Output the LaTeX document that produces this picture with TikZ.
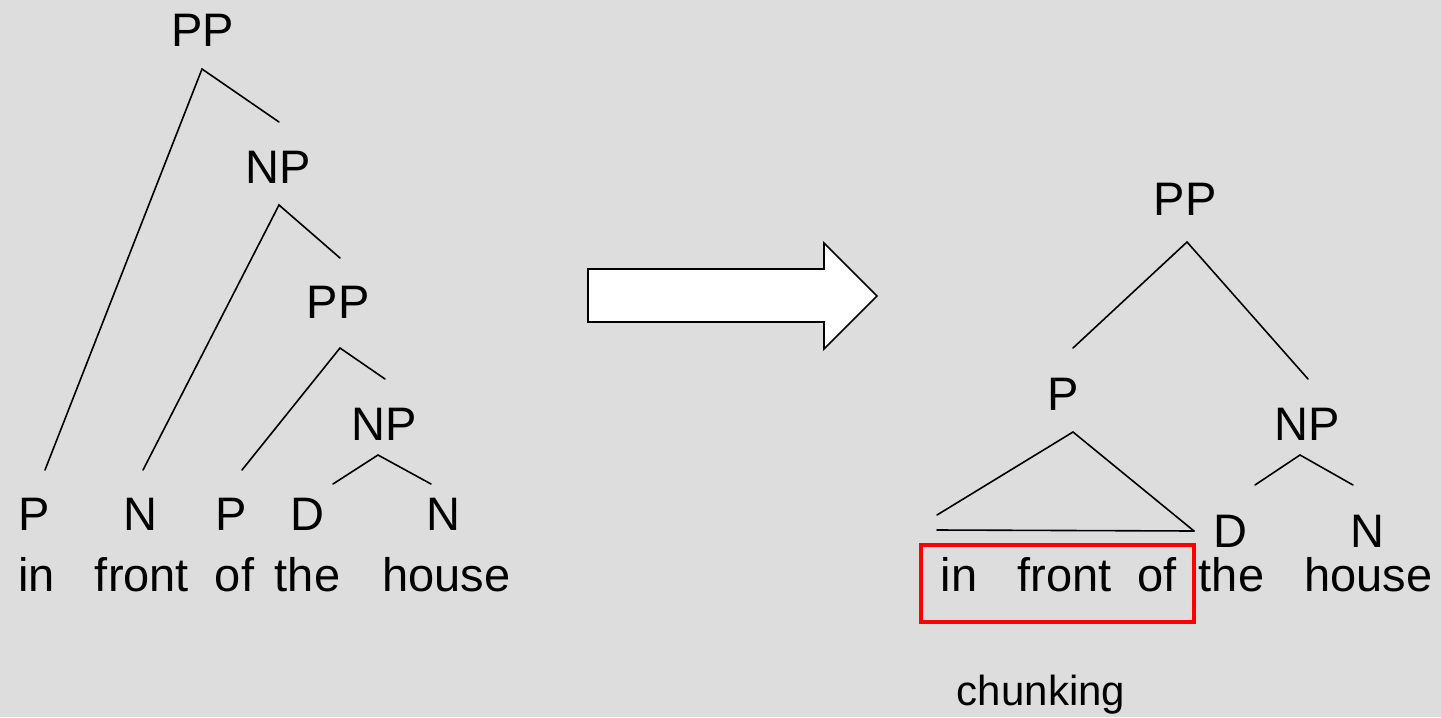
\documentclass[tikz,border=0pt]{standalone}
\usepackage{fontspec}
\setmainfont{Liberation Sans}
\definecolor{bg}{HTML}{DDDDDD}
\definecolor{boxred}{HTML}{FF0000}
\begin{document}
\begin{tikzpicture}[x=0.75pt,y=-0.75pt,
  lbl/.style={anchor=base,inner sep=0pt,font=\fontsize{35.25pt}{40pt}\selectfont},
  small/.style={anchor=base,inner sep=0pt,font=\fontsize{31.5pt}{36pt}\selectfont},
  branch/.style={line width=1.2pt,line cap=round},
  bigarrow/.style={fill=white,draw=black,line width=1.3pt,line join=miter},
  chunkbox/.style={draw=boxred,line width=2.6pt}]
\fill[bg] (0,0) rectangle (1441,717);
\useasboundingbox (0,0) rectangle (1441,717);

% ---------- left tree ----------
\node[lbl] (lPP1) at (202.5,47) {PP};
\node[lbl] (lNP1) at (278.5,183) {NP};
\node[lbl] (lPP2) at (338,318) {PP};
\node[lbl] (lNP2) at (384,440) {NP};
\node[lbl] (lP1) at (34,530) {P};
\node[lbl] (lN1) at (140.5,530) {N};
\node[lbl] (lP2) at (231,530) {P};
\node[lbl] (lD) at (307.5,530) {D};
\node[lbl] (lN2) at (443.5,530) {N};
\node[lbl] (lw1) at (36.5,591) {in};
\node[lbl] (lw2) at (142,591) {front};
\node[lbl] (lw3) at (234.5,591) {of};
\node[lbl] (lw4) at (307.5,591) {the};
\node[lbl] (lw5) at (446.5,591) {house};

\coordinate (lPP1a) at (202,69);
\coordinate (lP1t) at (45,470);
\coordinate (lNP1t) at (279,122);
\coordinate (lNP1a) at (279,205);
\coordinate (lN1t) at (143,470);
\coordinate (lPP2t) at (340,258);
\coordinate (lPP2a) at (340,348);
\coordinate (lP2t) at (242,470);
\coordinate (lNP2t) at (385,379);
\coordinate (lNP2a) at (378,455);
\coordinate (lDt) at (333,484);
\coordinate (lN2t) at (431,484);

\draw[branch] (lP1t) -- (lPP1a) -- (lNP1t);
\draw[branch] (lN1t) -- (lNP1a) -- (lPP2t);
\draw[branch] (lP2t) -- (lPP2a) -- (lNP2t);
\draw[branch] (lDt) -- (lNP2a) -- (lN2t);

% ---------- arrow ----------
\draw[bigarrow] (588,269) -- (824,269) -- (824,243) -- (877,296)
  -- (824,349) -- (824,322) -- (588,322) -- cycle;

% ---------- right tree ----------
\node[lbl] (rPP) at (1185,215) {PP};
\node[lbl] (rP) at (1063,410) {P};
\node[lbl] (rNP) at (1307,440) {NP};
\node[lbl] (rD) at (1230.5,547) {D};
\node[lbl] (rN) at (1367,547) {N};
\node[lbl] (rw1) at (959,591) {in};
\node[lbl] (rw2) at (1064.5,591) {front};
\node[lbl] (rw3) at (1157,591) {of};
\node[lbl] (rw4) at (1231.5,591) {the};
\node[lbl] (rw5) at (1368.5,591) {house};
\node[small] (chunk) at (1041,705) {chunking};

\coordinate (rPPa) at (1187,242);
\coordinate (rPt) at (1073,348);
\coordinate (rNPt) at (1308,379);
\coordinate (rPa) at (1073,432);
\coordinate (rTl) at (937,515);
\coordinate (rTr) at (1194,531);
\coordinate (rBl) at (937,530);
\coordinate (rNPa) at (1300,455);
\coordinate (rDt) at (1255,485);
\coordinate (rNt) at (1353,485);

\draw[branch] (rPt) -- (rPPa) -- (rNPt);
\draw[branch] (rTl) -- (rPa) -- (rTr);
\draw[branch] (rBl) -- (rTr);
\draw[branch] (rDt) -- (rNPa) -- (rNt);

\coordinate (boxa) at (921,545);
\coordinate (boxb) at (1194,622);
\draw[chunkbox] (boxa) rectangle (boxb);
\end{tikzpicture}
\end{document}
